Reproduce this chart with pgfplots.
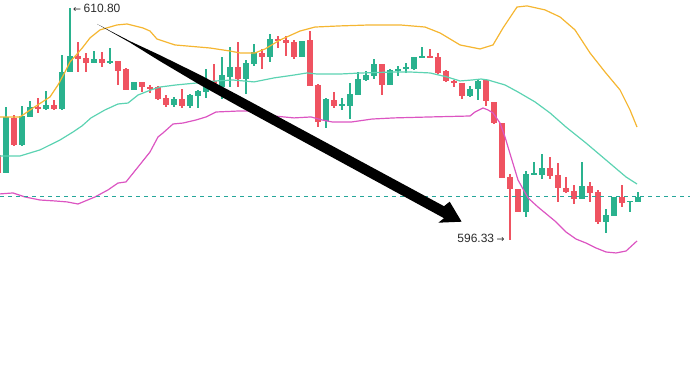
\documentclass[border=0pt]{standalone}
\usepackage{pgfplots}
\pgfplotsset{compat=1.18}
\usepackage{pgfplotstable}
\usepackage{fontspec}
\setmainfont{Liberation Sans}
\newfontfamily\arrowfont{DejaVu Sans}
\definecolor{cgreen}{HTML}{2AB28E}
\definecolor{cred}{HTML}{EF5361}
\definecolor{cupper}{HTML}{F5B631}
\definecolor{cmid}{HTML}{5CD3B2}
\definecolor{clower}{HTML}{DC55C2}
\definecolor{cdash}{HTML}{26A69A}
\definecolor{ctext}{HTML}{2B2B2B}

\pgfplotstableread{
n o h l c
2 600.49 604.61 600.49 603.99
4 602.24 604.68 602.18 604.05
5 603.99 604.99 603.99 604.61
7 604.49 605.61 604.43 604.74
9 604.49 607.86 604.43 606.80
10 606.80 610.80 606.80 607.80
13 607.36 608.11 607.36 607.61
15 607.43 608.30 607.30 607.49
18 605.68 606.18 605.68 606.18
23 604.74 605.24 604.61 605.11
25 604.68 605.43 604.55 605.36
26 605.30 605.68 604.55 605.61
27 605.55 606.99 605.18 606.05
29 605.86 607.74 605.11 606.61
30 606.49 608.36 605.86 607.11
32 606.36 607.55 605.43 607.36
33 607.30 608.55 607.18 608.05
35 607.74 609.18 607.43 608.86
39 607.74 608.74 607.74 608.74
42 603.74 605.18 603.30 605.11
44 604.68 605.18 604.43 604.80
45 604.68 606.11 603.86 605.43
46 605.36 606.80 605.36 606.36
47 606.30 606.86 606.24 606.61
48 606.55 607.61 606.36 607.30
50 605.99 606.99 605.99 606.93
51 606.86 607.18 606.55 606.99
52 606.99 607.36 606.74 607.11
53 606.99 607.74 606.93 607.74
54 607.74 608.36 607.74 607.80
60 605.30 605.93 605.24 605.74
61 605.74 606.36 605.05 606.24
67 598.05 600.61 597.74 600.43
68 600.36 601.18 600.36 600.49
69 600.36 601.68 600.11 600.80
74 598.86 601.18 598.86 599.68
77 597.43 598.24 596.74 597.86
78 597.80 598.99 597.80 598.99
80 598.68 598.74 598.05 598.74
81 598.68 599.30 598.68 598.99
}\greentab

\pgfplotstableread{
n o h l c
1 601.61 601.93 600.36 600.49
3 603.93 604.11 602.18 602.24
6 604.61 605.18 604.24 604.49
8 604.74 605.05 604.43 604.49
11 607.80 608.68 606.80 607.61
12 607.68 607.99 606.80 607.36
14 607.61 608.05 607.11 607.36
16 607.49 607.49 605.99 606.86
17 606.99 607.05 605.68 605.68
19 606.18 606.18 605.55 605.86
20 605.86 605.99 605.49 605.74
21 605.86 605.93 605.05 605.11
22 605.18 605.36 604.61 604.74
24 605.11 605.74 604.55 604.68
28 606.24 607.30 605.74 605.93
31 607.11 608.68 605.86 606.36
34 607.99 608.24 606.99 607.74
36 608.86 609.05 608.30 608.74
37 608.80 609.05 607.80 608.61
38 608.68 608.80 607.61 607.74
40 608.80 609.36 605.93 605.93
41 605.99 606.05 603.36 603.68
43 605.05 605.55 604.55 604.68
49 607.30 607.30 605.36 605.99
55 607.80 608.24 607.74 607.74
56 607.74 607.99 606.68 606.74
57 606.86 606.93 606.18 606.24
58 606.24 606.30 605.86 606.11
59 606.11 606.11 605.11 605.30
62 606.30 606.36 604.68 604.99
63 604.93 604.93 603.55 603.61
64 603.61 603.61 600.18 600.18
65 600.24 600.43 596.33 599.49
66 599.49 599.49 598.05 598.05
70 600.80 601.49 600.11 600.30
71 600.36 601.11 598.68 599.55
72 599.55 600.24 599.24 599.30
73 599.36 599.74 598.55 598.86
75 599.68 599.93 598.68 599.24
76 599.30 599.43 597.30 597.43
79 598.99 599.74 598.36 598.61
}\redtab

\begin{document}
\begin{tikzpicture}
\begin{axis}[
  scale only axis, width=690pt, height=377pt,
  xmin=1.25, xmax=87.5, ymin=587.7375, ymax=611.30,
  axis line style={draw=none}, ticks=none, clip=true,
]
% wicks
\addplot[draw=none, mark=none, forget plot,
  error bars/.cd, y dir=both, y explicit, error mark=none,
  error bar style={line width=1.1pt, draw=cgreen}]
  table[x=n, y expr={(\thisrow{h}+\thisrow{l})/2},
    y error plus expr={(\thisrow{h}-\thisrow{l})/2},
    y error minus expr={(\thisrow{h}-\thisrow{l})/2}] {\greentab};
\addplot[draw=none, mark=none, forget plot,
  error bars/.cd, y dir=both, y explicit, error mark=none,
  error bar style={line width=1.1pt, draw=cred}]
  table[x=n, y expr={(\thisrow{h}+\thisrow{l})/2},
    y error plus expr={(\thisrow{h}-\thisrow{l})/2},
    y error minus expr={(\thisrow{h}-\thisrow{l})/2}] {\redtab};
% bodies
\addplot[draw=none, mark=none, forget plot,
  error bars/.cd, y dir=both, y explicit, error mark=none,
  error bar style={line width=6pt, draw=cgreen}]
  table[x=n, y expr={(\thisrow{o}+\thisrow{c})/2},
    y error expr={abs(\thisrow{o}-\thisrow{c})/2}] {\greentab};
\addplot[draw=none, mark=none, forget plot,
  error bars/.cd, y dir=both, y explicit, error mark=none,
  error bar style={line width=6pt, draw=cred}]
  table[x=n, y expr={(\thisrow{o}+\thisrow{c})/2},
    y error expr={abs(\thisrow{o}-\thisrow{c})/2}] {\redtab};
% upper band
\addplot[cupper, line width=1.2pt] coordinates {
(1.25,603.99) (3.75,603.99) (5.375,604.55) (7.5,605.24) (8.5,605.99) (9.375,606.80)
(10,607.43) (11,607.99) (11.625,608.36) (12.5,608.93) (13.75,609.43) (15.875,609.74)
(17.125,609.80) (19.125,609.55) (20,609.36) (20.875,608.86) (23.125,608.49) (27.5,608.30)
(30,608.11) (31.25,607.99) (33.125,607.99) (34.375,608.24) (36.25,608.80) (38.75,609.36)
(40.625,609.61) (43.75,609.68) (47.5,609.74) (51.25,609.74) (54.375,609.61) (56.25,609.24)
(58.75,608.49) (61.25,608.24) (62.875,608.49) (64.125,609.55) (65.875,610.86) (67.125,610.93)
(69.375,610.68) (71.25,610.24) (73.125,609.43) (75,607.99) (76.875,606.80) (78.75,605.68)
(80,604.43) (80.875,603.36)};
% middle band
\addplot[cmid, line width=1.2pt] coordinates {
(1.25,601.55) (3.75,601.55) (6.25,601.93) (8.75,602.55) (10.375,603.05) (11.5,603.43)
(12.625,603.93) (14.375,604.43) (16,604.80) (17.25,604.86) (18.5,605.36) (20.125,605.68)
(21.25,605.86) (23.25,605.99) (25.75,606.11) (28.25,606.24) (30.375,606.30) (33,606.18)
(35.5,606.43) (38,606.61) (39.625,606.74) (40.75,606.68) (44,606.68) (46.5,606.74)
(50.5,606.80) (52.5,606.80) (55,606.74) (57.125,606.49) (58.75,606.24) (60.25,606.30)
(61.375,606.36) (62.25,606.30) (64.375,605.99) (66,605.55) (68.125,604.93) (70,604.24)
(72,603.36) (74.5,602.36) (77,601.30) (79.5,600.24) (80.875,599.80)};
% lower band
\addplot[clower, line width=1.2pt] coordinates {
(1.25,599.18) (2.875,599.24) (4.375,598.99) (6.25,598.80) (8.125,598.74) (9.625,598.68)
(11,598.55) (13.125,598.99) (14.75,599.43) (16,599.86) (17,599.93) (18.5,600.86)
(20,601.80) (21,602.74) (21.625,602.99) (22.875,603.55) (24.125,603.61) (25.75,603.80)
(27,603.99) (28.25,604.30) (31,604.36) (33,604.36) (35.5,604.05) (38,603.93)
(40.125,603.99) (41.5,603.80) (42.75,603.68) (45.25,603.68) (47.75,603.86) (50.5,603.93)
(55,603.99) (60,604.05) (60.625,604.30) (61.625,604.55) (62.25,604.43) (62.875,604.24)
(63.75,603.61) (64.375,602.74) (65.125,601.49) (66,600.05) (67.25,598.93) (68.5,598.36)
(70,597.74) (70.75,597.43) (72,596.80) (73.25,596.36) (74.5,596.11) (75.75,595.80)
(77,595.55) (78.25,595.49) (79.5,595.61) (80.875,596.24)};
% dashed level
\addplot[cdash, line width=1pt, dash pattern=on 4pt off 4pt] coordinates {(1.25,598.99) (87.5,598.99)};
% big arrow
\addplot[fill=black, draw=none] coordinates {
(13.375,609.80) (17.5,608.725) (21.25,607.85) (26.25,606.619) (31.25,605.294)
(56.75,598.4125) (57.4625,598.694) (58.95,597.444) (56.0375,597.381) (56.75,597.6625)
(31.25,604.606) (26.25,605.994) (21.25,607.475) (17.5,608.6375) (13.375,609.80)};
% labels
\node[anchor=west, inner sep=0pt, text=ctext, font=\fontsize{12}{14}\selectfont]
  at (axis cs:10.375,610.80) {{\arrowfont\fontsize{9.5}{11}\selectfont ←}\hspace{2.5pt}610.80};
\node[anchor=east, inner sep=0pt, text=ctext, font=\fontsize{12}{14}\selectfont]
  at (axis cs:64.35,596.425) {596.33\hspace{2.5pt}{\arrowfont\fontsize{9.5}{11}\selectfont →}};
\end{axis}
\end{tikzpicture}
\end{document}
